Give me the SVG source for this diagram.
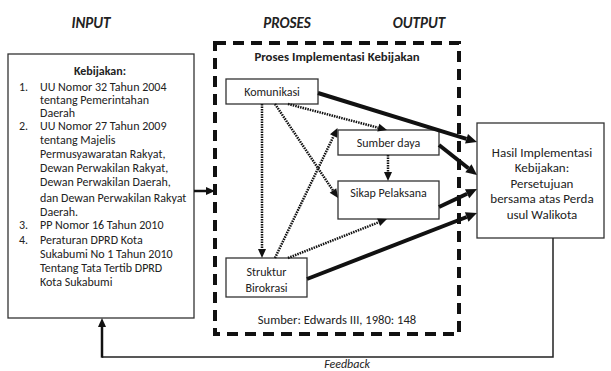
<svg xmlns="http://www.w3.org/2000/svg" width="611" height="371" viewBox="0 0 611 371">
<style>
text{font-family:Carlito,Lato,"Liberation Sans",sans-serif;fill:#222}
.title{font-size:15px;font-weight:bold;font-style:italic;text-anchor:middle}
.t{font-size:12px}
.c{text-anchor:middle}
.o{font-size:13px;text-anchor:middle}
.box{fill:#fff;stroke:#333;stroke-width:1.3}
.thick{stroke:#111;stroke-width:4;fill:none}
.dot{stroke:#111;stroke-width:2.5;stroke-dasharray:1.5 1;fill:none}
</style>
<defs>
<marker id="ah" markerUnits="userSpaceOnUse" markerWidth="12" markerHeight="11" refX="0" refY="5" orient="auto" overflow="visible">
<path d="M0,0 L11,5 L0,10 z" fill="#111"/>
</marker>
<marker id="ad" markerUnits="userSpaceOnUse" markerWidth="10" markerHeight="9" refX="0" refY="4" orient="auto" overflow="visible">
<path d="M0,0 L9,4 L0,8 z" fill="#111"/>
</marker>
</defs>
<rect width="611" height="371" fill="#fff"/>
<text class="title" x="91" y="28">INPUT</text>
<text class="title" x="287" y="28">PROSES</text>
<text class="title" x="419" y="28">OUTPUT</text>

<g id="input">
<rect class="box" x="8" y="54" width="186" height="264"/>
<text class="t c" x="100" y="75" font-weight="bold">Kebijakan:</text>
<text class="t" x="19" y="91">1.</text>
<text class="t" x="40" y="91">UU Nomor 32 Tahun 2004</text>
<text class="t" x="40" y="104">tentang Pemerintahan</text>
<text class="t" x="40" y="117">Daerah</text>
<text class="t" x="19" y="130">2.</text>
<text class="t" x="40" y="130">UU Nomor 27 Tahun 2009</text>
<text class="t" x="40" y="144">tentang Majelis</text>
<text class="t" x="40" y="158">Permusyawaratan Rakyat,</text>
<text class="t" x="40" y="172">Dewan Perwakilan Rakyat,</text>
<text class="t" x="40" y="186">Dewan Perwakilan Daerah,</text>
<text class="t" x="40" y="202">dan Dewan Perwakilan Rakyat</text>
<text class="t" x="40" y="216">Daerah.</text>
<text class="t" x="19" y="229">3.</text>
<text class="t" x="40" y="229">PP Nomor 16 Tahun 2010</text>
<text class="t" x="19" y="244">4.</text>
<text class="t" x="40" y="244">Peraturan DPRD Kota</text>
<text class="t" x="40" y="258">Sukabumi No 1 Tahun 2010</text>
<text class="t" x="40" y="272">Tentang Tata Tertib DPRD</text>
<text class="t" x="40" y="286">Kota Sukabumi</text>
</g>

<g id="proses">
<rect x="215" y="43" width="244" height="291" fill="none" stroke="#111" stroke-width="4" stroke-dasharray="11 7"/>
<text class="c" x="337" y="61" font-size="12.8" font-weight="bold">Proses Implementasi Kebijakan</text>
<text class="c" x="337" y="324" font-size="12.6">Sumber: Edwards III, 1980: 148</text>
</g>

<g id="komunikasi">
<rect class="box" x="226" y="79" width="92" height="25"/>
<text class="t c" x="272" y="96">Komunikasi</text>
</g>
<g id="sumberdaya">
<rect class="box" x="338" y="130" width="101" height="25"/>
<text class="t c" x="388.5" y="147">Sumber daya</text>
</g>
<g id="sikap">
<rect class="box" x="338" y="181" width="101" height="38"/>
<text class="t c" x="388.5" y="197">Sikap Pelaksana</text>
</g>
<g id="struktur">
<rect class="box" x="226" y="258" width="81" height="39"/>
<text class="t c" x="266.5" y="276">Struktur</text>
<text class="t c" x="266.5" y="292">Birokrasi</text>
</g>

<g id="output">
<rect class="box" x="477" y="123" width="127" height="115"/>
<text class="o" x="542" y="157">Hasil Implementasi</text>
<text class="o" x="542" y="172">Kebijakan:</text>
<text class="o" x="542" y="188">Persetujuan</text>
<text class="o" x="542" y="203">bersama atas Perda</text>
<text class="o" x="542" y="219">usul Walikota</text>
</g>

<g id="connectors">
<line x1="194" y1="191" x2="206" y2="191" stroke="#111" stroke-width="2.5" marker-end="url(#ad)"/>
<line class="thick" x1="318" y1="93" x2="466.5" y2="138.8" marker-end="url(#ah)"/>
<line class="thick" x1="439" y1="145" x2="468.4" y2="168.2" marker-end="url(#ah)"/>
<line class="thick" x1="439" y1="207" x2="467.1" y2="193.7" marker-end="url(#ah)"/>
<line class="thick" x1="307" y1="279" x2="466.7" y2="217" marker-end="url(#ah)"/>
<line class="dot" x1="262" y1="104" x2="262" y2="249" marker-end="url(#ad)"/>
<line class="dot" x1="288" y1="104" x2="378.3" y2="127.7" marker-end="url(#ad)"/>
<line class="dot" x1="275" y1="104" x2="333" y2="190.5" marker-end="url(#ad)"/>
<line class="dot" x1="275" y1="258" x2="333.6" y2="136.1" marker-end="url(#ad)"/>
<line class="dot" x1="388" y1="155" x2="388" y2="172" marker-end="url(#ad)"/>
<line class="dot" x1="288" y1="258" x2="378.6" y2="222.3" marker-end="url(#ad)"/>
<polyline points="553,238 553,357 102,357" fill="none" stroke="#222" stroke-width="1.5"/>
<line x1="102" y1="357.7" x2="102" y2="327" stroke="#111" stroke-width="2.5" marker-end="url(#ad)"/>
</g>
<text class="c" x="347" y="368" font-size="12" font-style="italic">Feedback</text>
</svg>
